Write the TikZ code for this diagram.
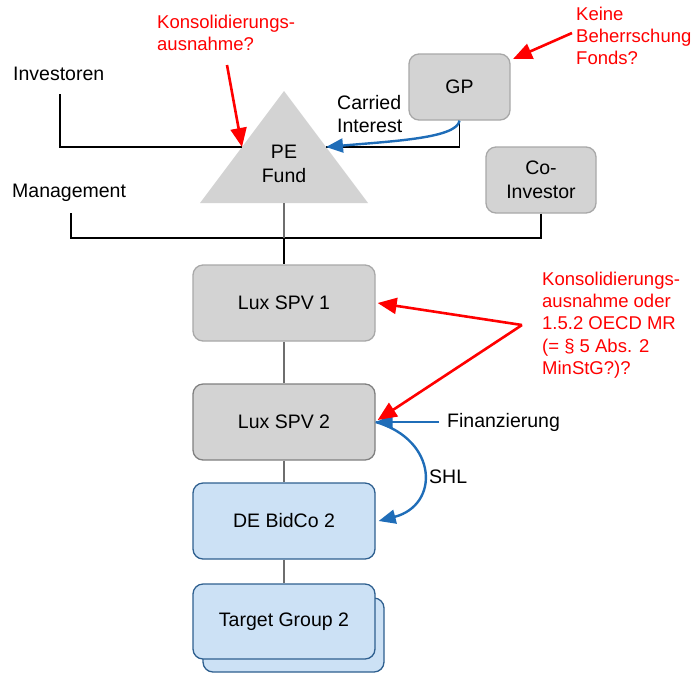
\documentclass[tikz,border=0pt]{standalone}
\usepackage{fontspec}
\setmainfont{Liberation Sans}
\usetikzlibrary{arrows.meta}
\definecolor{boxgray}{HTML}{D3D3D3}
\definecolor{edgegray}{HTML}{A8A8A8}
\definecolor{edgedark}{HTML}{808080}
\definecolor{bluefill}{HTML}{CCE1F5}
\definecolor{blueedge}{HTML}{2E5F8F}
\definecolor{arrowblue}{HTML}{1F6DB8}
\definecolor{notered}{HTML}{FF0000}
\definecolor{trunkgray}{HTML}{6E6E6E}

\begin{document}
\begin{tikzpicture}[x=1pt,y=-1pt,
  txt/.style={font=\fontsize{19.5}{23.5}\selectfont, align=center, inner sep=0pt},
  lbl/.style={txt, align=left, anchor=west},
  note/.style={font=\fontsize{18.5}{22.3}\selectfont, text=notered, align=left, inner sep=0pt, anchor=west},
  entity/.style={txt, rounded corners=10pt, draw=edgegray, line width=1.3pt, fill=boxgray},
  spv/.style={entity, minimum width=182pt, minimum height=76pt},
  german/.style={spv, draw=blueedge, fill=bluefill},
  link/.style={line width=1.2pt, black},
  trunk/.style={line width=1.3pt, trunkgray},
  redarrow/.style={notered, line width=2.6pt, -{Triangle[length=19pt,width=16pt]}},
  bluearrow/.style={arrowblue, line width=2.4pt, -{Triangle[length=17pt,width=14pt]}}
]
\useasboundingbox (0,0) rectangle (692,673);

% fund triangle
\fill[boxgray] (200,203) -- (284,91) -- (368,203) -- cycle;
\node[txt] (fund) at (284,164) {PE\\Fund};
\coordinate (fundL) at (242,147);
\coordinate (fundR) at (326,147);
\coordinate (fundB) at (284,203);

% entities
\node[entity, minimum width=101pt, minimum height=66pt] (gp) at (459.5,87) {GP};
\node[entity, minimum width=110pt, minimum height=66pt] (coinv) at (541,180) {Co-\\Investor};
\node[spv] (spv1) at (284,303) {Lux SPV 1};
\node[spv, draw=edgedark] (spv2) at (284,422) {Lux SPV 2};
\node[german] (bidco) at (284,521) {DE BidCo 2};
\node[german, minimum width=181pt, minimum height=74pt] (tgback) at (293.5,635) {};
\node[german, minimum height=75pt] (target) at (284,621.5) {Target Group 2};

% plain labels
\node[lbl] (investoren) at (13,74) {Investoren};
\node[lbl] (management) at (12,193) {Management};
\node[lbl] (carried) at (337,114) {Carried\\Interest};
\node[lbl] (finanz) at (447,422) {Finanzierung};
\node[lbl] (shl) at (429,477) {SHL};

% ownership lines
\coordinate (invfoot) at (60,94);
\draw[link] (invfoot) -- (60,147) -- (fundL);
\draw[link] (gp.south) -- (gp.south |- fundR) -- (fundR);
\draw[link] (coinv.south) -- (541,238) -- (71,238) -- (71,213);
\draw[trunk] (fundB) -- (284,238);
\draw[link] (284,238) -- (spv1.north);
\draw[trunk] (spv1.south) -- (spv2.north);
\draw[trunk] (spv2.south) -- (bidco.north);
\draw[trunk] (bidco.south) -- (target.north);

% flows
\draw[bluearrow] (gp.south) .. controls (457,138) and (395,141) .. (fundR);
\coordinate (finstart) at (439,422);
\draw[bluearrow] (finstart) -- (spv2.east);
\draw[bluearrow] (spv2.east) .. controls (438,440) and (440,505) .. ([xshift=3pt]bidco.east);

% annotations
\node[note] (n1) at (157,33) {Konsolidierungs-\\ausnahme?};
\node[note] (n2) at (576,36) {Keine\\Beherrschung\\Fonds?};
\node[note] (n3) at (542,325) {Konsolidierungs-\\ausnahme oder\\1.5.2 OECD MR\\(= § 5 Abs. 2\\MinStG?)?};
\coordinate (n1tail) at (227,65);
\coordinate (n2tail) at (572,33);
\coordinate (n3tail) at (522,325);
\coordinate (gpcorner) at (513,59);
\draw[redarrow] (n1tail) -- (fundL);
\draw[redarrow] (n2tail) -- (gpcorner);
\draw[redarrow] (n3tail) -- ([xshift=2pt]spv1.east);
\draw[redarrow] (n3tail) -- ([xshift=2pt,yshift=2pt]spv2.east);
\end{tikzpicture}
\end{document}
